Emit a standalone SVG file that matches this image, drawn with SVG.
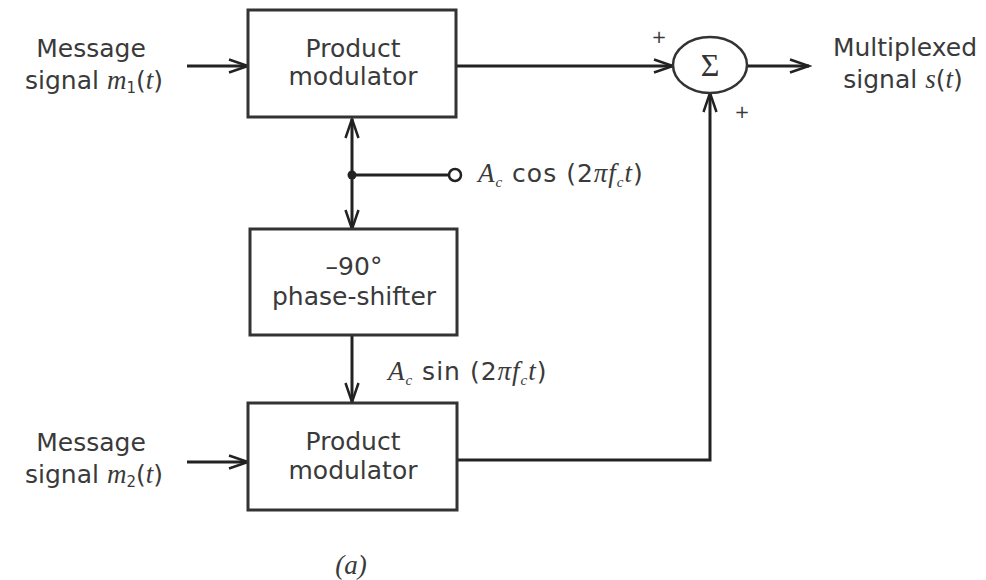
<svg xmlns="http://www.w3.org/2000/svg" width="986" height="580" viewBox="0 0 986 580">
<defs>
<marker id="arr" markerUnits="userSpaceOnUse" markerWidth="24" markerHeight="20" refX="21" refY="10" orient="auto-start-reverse" viewBox="0 0 24 20">
<path d="M2,3.5 L21,10 L2,16.5" fill="none" stroke="#222" stroke-width="2.5"/>
</marker>
</defs>
<style>
.box{fill:#fff;stroke:#333;stroke-width:3}
.ln{fill:none;stroke:#222;stroke-width:3}
.t{font-family:"DejaVu Sans","Liberation Sans",Arial,sans-serif;font-size:25px;fill:#3a3a3a}
.i{font-family:"Liberation Serif","Times New Roman",serif;font-style:italic;font-size:27px}
.s{font-size:15px}
.p{font-size:18px}
</style>
<rect width="986" height="580" fill="#fff"/>
<g id="connectors">
<line class="ln" x1="187" y1="66" x2="248" y2="66" marker-end="url(#arr)"/>
<line class="ln" x1="456" y1="66" x2="673" y2="66" marker-end="url(#arr)"/>
<line class="ln" x1="747" y1="66" x2="809" y2="66" marker-end="url(#arr)"/>
<line class="ln" x1="352" y1="119" x2="352" y2="229" marker-start="url(#arr)" marker-end="url(#arr)"/>
<line class="ln" x1="352" y1="175" x2="449" y2="175"/>
<circle cx="352" cy="175" r="4.5" fill="#222"/>
<circle cx="455" cy="175" r="6" fill="#fff" stroke="#222" stroke-width="2.5"/>
<line class="ln" x1="352" y1="335" x2="352" y2="402" marker-end="url(#arr)"/>
<line class="ln" x1="187" y1="462" x2="248" y2="462" marker-end="url(#arr)"/>
<polyline class="ln" points="457,460 710,460 710,93" marker-end="url(#arr)"/>
</g>
<g id="mod1">
<rect class="box" x="248" y="10" width="208" height="107"/>
<text class="t" x="353" y="57" text-anchor="middle">Product</text>
<text class="t" x="353" y="85" text-anchor="middle">modulator</text>
</g>
<g id="shifter">
<rect class="box" x="250" y="229" width="207" height="106"/>
<text class="t" x="354" y="275" text-anchor="middle">–90°</text>
<text class="t" x="354" y="305" text-anchor="middle">phase-shifter</text>
</g>
<g id="mod2">
<rect class="box" x="248" y="403" width="209" height="107"/>
<text class="t" x="353" y="450" text-anchor="middle">Product</text>
<text class="t" x="353" y="479" text-anchor="middle">modulator</text>
</g>
<g id="sum">
<ellipse cx="710" cy="65" rx="37" ry="28" fill="#fff" stroke="#333" stroke-width="2.5"/>
<text x="710" y="76" text-anchor="middle" font-family="'Liberation Serif','Times New Roman',serif" font-size="32" fill="#333">Σ</text>
<text class="t p" x="659" y="43" text-anchor="middle">+</text>
<text class="t p" x="742" y="118" text-anchor="middle">+</text>
</g>
<g id="labels">
<text class="t" x="91" y="57" text-anchor="middle">Message</text>
<text class="t" x="94" y="89" text-anchor="middle">signal <tspan class="i">m</tspan><tspan class="s" dy="4">1</tspan><tspan dy="-4">(</tspan><tspan class="i">t</tspan>)</text>
<text class="t" x="91" y="451" text-anchor="middle">Message</text>
<text class="t" x="94" y="483" text-anchor="middle">signal <tspan class="i">m</tspan><tspan class="s" dy="4">2</tspan><tspan dy="-4">(</tspan><tspan class="i">t</tspan>)</text>
<text class="t" x="905" y="56" text-anchor="middle">Multiplexed</text>
<text class="t" x="903" y="88" text-anchor="middle">signal <tspan class="i">s</tspan>(<tspan class="i">t</tspan>)</text>
<text class="t" x="478" y="182" letter-spacing="1"><tspan class="i">A</tspan><tspan class="s i" dy="5">c</tspan><tspan dy="-5"> cos (2</tspan><tspan class="i">πf</tspan><tspan class="s i" dy="5">c</tspan><tspan class="i" dy="-5">t</tspan>)</text>
<text class="t" x="388" y="380" letter-spacing="1"><tspan class="i">A</tspan><tspan class="s i" dy="5">c</tspan><tspan dy="-5"> sin (2</tspan><tspan class="i">πf</tspan><tspan class="s i" dy="5">c</tspan><tspan class="i" dy="-5">t</tspan>)</text>
<text class="t i" x="351" y="574" text-anchor="middle" font-size="24">(a)</text>
</g>
</svg>
